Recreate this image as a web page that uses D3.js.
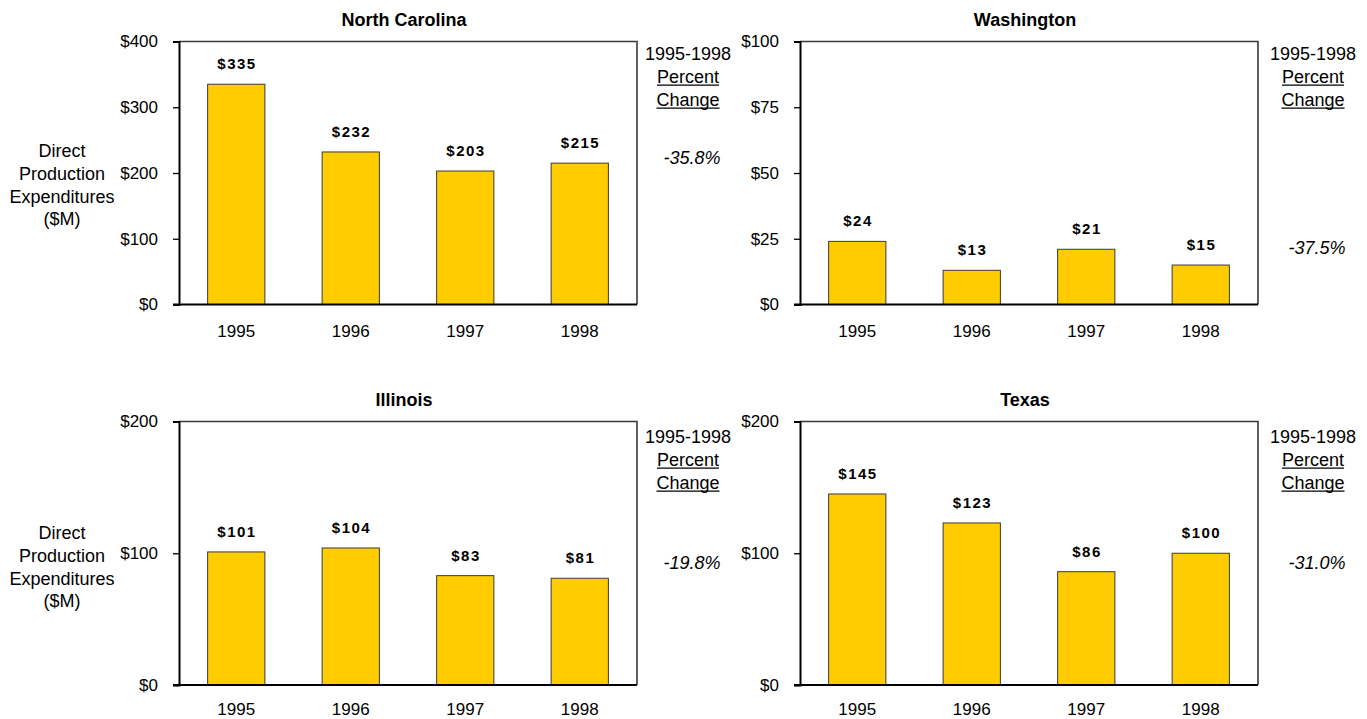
<!DOCTYPE html>
<html>
<head>
<meta charset="utf-8">
<script src="https://cdn.jsdelivr.net/npm/d3@7/dist/d3.min.js"></script>
<style>
  html, body { margin: 0; padding: 0; background: #fff; }
  svg { display: block; font-family: "Liberation Sans", Arial, sans-serif; }
</style>
</head>
<body>
<svg id="chart" width="1367" height="719"></svg>
<script>
// Direct production expenditures ($M) by state, 1995-1998
const years = ["1995", "1996", "1997", "1998"];

const states = ["North Carolina", "Washington", "Illinois", "Texas"];

const northCarolina = [335, 232, 203, 215];
const washington    = [24, 13, 21, 15];
const illinois      = [101, 104, 83, 81];
const texas         = [145, 123, 86, 100];

const percentChange = ["-35.8%", "-37.5%", "-19.8%", "-31.0%"];

const yMaxes    = [400, 100, 200, 200];
const yTicks    = [[0, 100, 200, 300, 400], [0, 25, 50, 75, 100], [0, 100, 200], [0, 100, 200]];

const seriesByState = [northCarolina, washington, illinois, texas];

// panel placement (plot-area boxes) and the vertical spot of each percent figure
const layout = [
  { x0: 179, x1: 637,  y0: 41.5,  y1: 304.5, pctX: 688,  pctY: 164, headY: 60,  yearPad: 20, yTitle: true },
  { x0: 800, x1: 1258, y0: 41.5,  y1: 304.5, pctX: 1313, pctY: 254, headY: 60,  yearPad: 20, yTitle: false },
  { x0: 179, x1: 637,  y0: 421.5, y1: 685,   pctX: 688,  pctY: 569, headY: 443, yearPad: 18, yTitle: true },
  { x0: 800, x1: 1258, y0: 421.5, y1: 685,   pctX: 1313, pctY: 569, headY: 443, yearPad: 18, yTitle: false }
];

const svg = d3.select("#chart");
const BAR = "#FFCC00";

states.forEach((name, i) => {
  const L = layout[i];
  const values = seriesByState[i];
  const w = L.x1 - L.x0, h = L.y1 - L.y0;

  const x = d3.scaleBand().domain(years).range([0, w]).paddingInner(0.5).paddingOuter(0.25);
  const y = d3.scaleLinear().domain([0, yMaxes[i]]).range([h, 0]);

  const g = svg.append("g").attr("transform", `translate(${L.x0},${L.y0})`);

  // top and right frame edges
  g.append("path")
    .attr("d", `M0,0H${w}V${h}`)
    .attr("fill", "none")
    .attr("stroke", "#3a3a3a")
    .attr("stroke-width", 1.6);

  // bars
  g.selectAll("rect.bar")
    .data(values)
    .join("rect")
    .attr("class", "bar")
    .attr("x", (d, j) => x(years[j]))
    .attr("y", d => y(d))
    .attr("width", x.bandwidth())
    .attr("height", d => h - y(d))
    .attr("fill", BAR)
    .attr("stroke", "#3a3a3a")
    .attr("stroke-width", 1);

  // value labels
  g.selectAll("text.val")
    .data(values)
    .join("text")
    .attr("class", "val")
    .attr("x", (d, j) => x(years[j]) + x.bandwidth() / 2 + 0.75)
    .attr("y", d => y(d) - 15)
    .attr("text-anchor", "middle")
    .attr("font-size", 15)
    .attr("font-weight", "bold")
    .attr("letter-spacing", "1.5px")
    .attr("fill", "#000")
    .text(d => "$" + d);

  // y axis
  const yAxis = g.append("g")
    .call(d3.axisLeft(y).tickValues(yTicks[i]).tickSize(6).tickPadding(15).tickFormat(d => "$" + d));
  yAxis.select(".domain").attr("stroke", "#000").attr("stroke-width", 2);
  yAxis.selectAll(".tick line").attr("stroke", "#000").attr("stroke-width", 1.3);
  yAxis.selectAll(".tick text").attr("font-size", 17).attr("font-family", "Liberation Sans, Arial, sans-serif").attr("fill", "#000");

  // x axis
  const xAxis = g.append("g")
    .attr("transform", `translate(0,${h})`)
    .call(d3.axisBottom(x).tickSize(0).tickPadding(L.yearPad));
  xAxis.select(".domain").remove();
  xAxis.selectAll(".tick text").attr("font-size", 17).attr("font-family", "Liberation Sans, Arial, sans-serif").attr("fill", "#000");

  // baseline
  g.append("line")
    .attr("x1", -6).attr("x2", w)
    .attr("y1", h).attr("y2", h)
    .attr("stroke", "#000").attr("stroke-width", 2);

  // panel title
  svg.append("text")
    .attr("x", L.x0 + w / 2 - 4)
    .attr("y", L.y0 - 15.5)
    .attr("text-anchor", "middle")
    .attr("font-size", 18)
    .attr("font-weight", "bold")
    .attr("fill", "#000")
    .text(name);

  // percent change header
  const head = ["1995-1998", "Percent", "Change"];
  head.forEach((t, k) => {
    const tx = svg.append("text")
      .attr("x", L.pctX)
      .attr("y", L.headY + k * 23)
      .attr("text-anchor", "middle")
      .attr("font-size", 18)
      .attr("fill", "#000")
      .text(t);
    if (k > 0) {
      const tw = tx.node().getComputedTextLength();
      svg.append("line")
        .attr("x1", L.pctX - tw / 2).attr("x2", L.pctX + tw / 2)
        .attr("y1", L.headY + k * 23 + 2.2).attr("y2", L.headY + k * 23 + 2.2)
        .attr("stroke", "#000").attr("stroke-width", 1.2);
    }
  });

  svg.append("text")
    .attr("x", L.pctX + 4)
    .attr("y", L.pctY)
    .attr("text-anchor", "middle")
    .attr("font-size", 18)
    .attr("font-style", "italic")
    .attr("fill", "#000")
    .text(percentChange[i]);

  // y axis title on the left column
  if (L.yTitle) {
    const lines = ["Direct", "Production", "Expenditures", "($M)"];
    const start = i === 0 ? 157 : 539;
    lines.forEach((t, k) => {
      svg.append("text")
        .attr("x", 62)
        .attr("y", start + k * 22.8)
        .attr("text-anchor", "middle")
        .attr("font-size", 18)
        .attr("fill", "#000")
        .text(t);
    });
  }
});
</script>
</body>
</html>
